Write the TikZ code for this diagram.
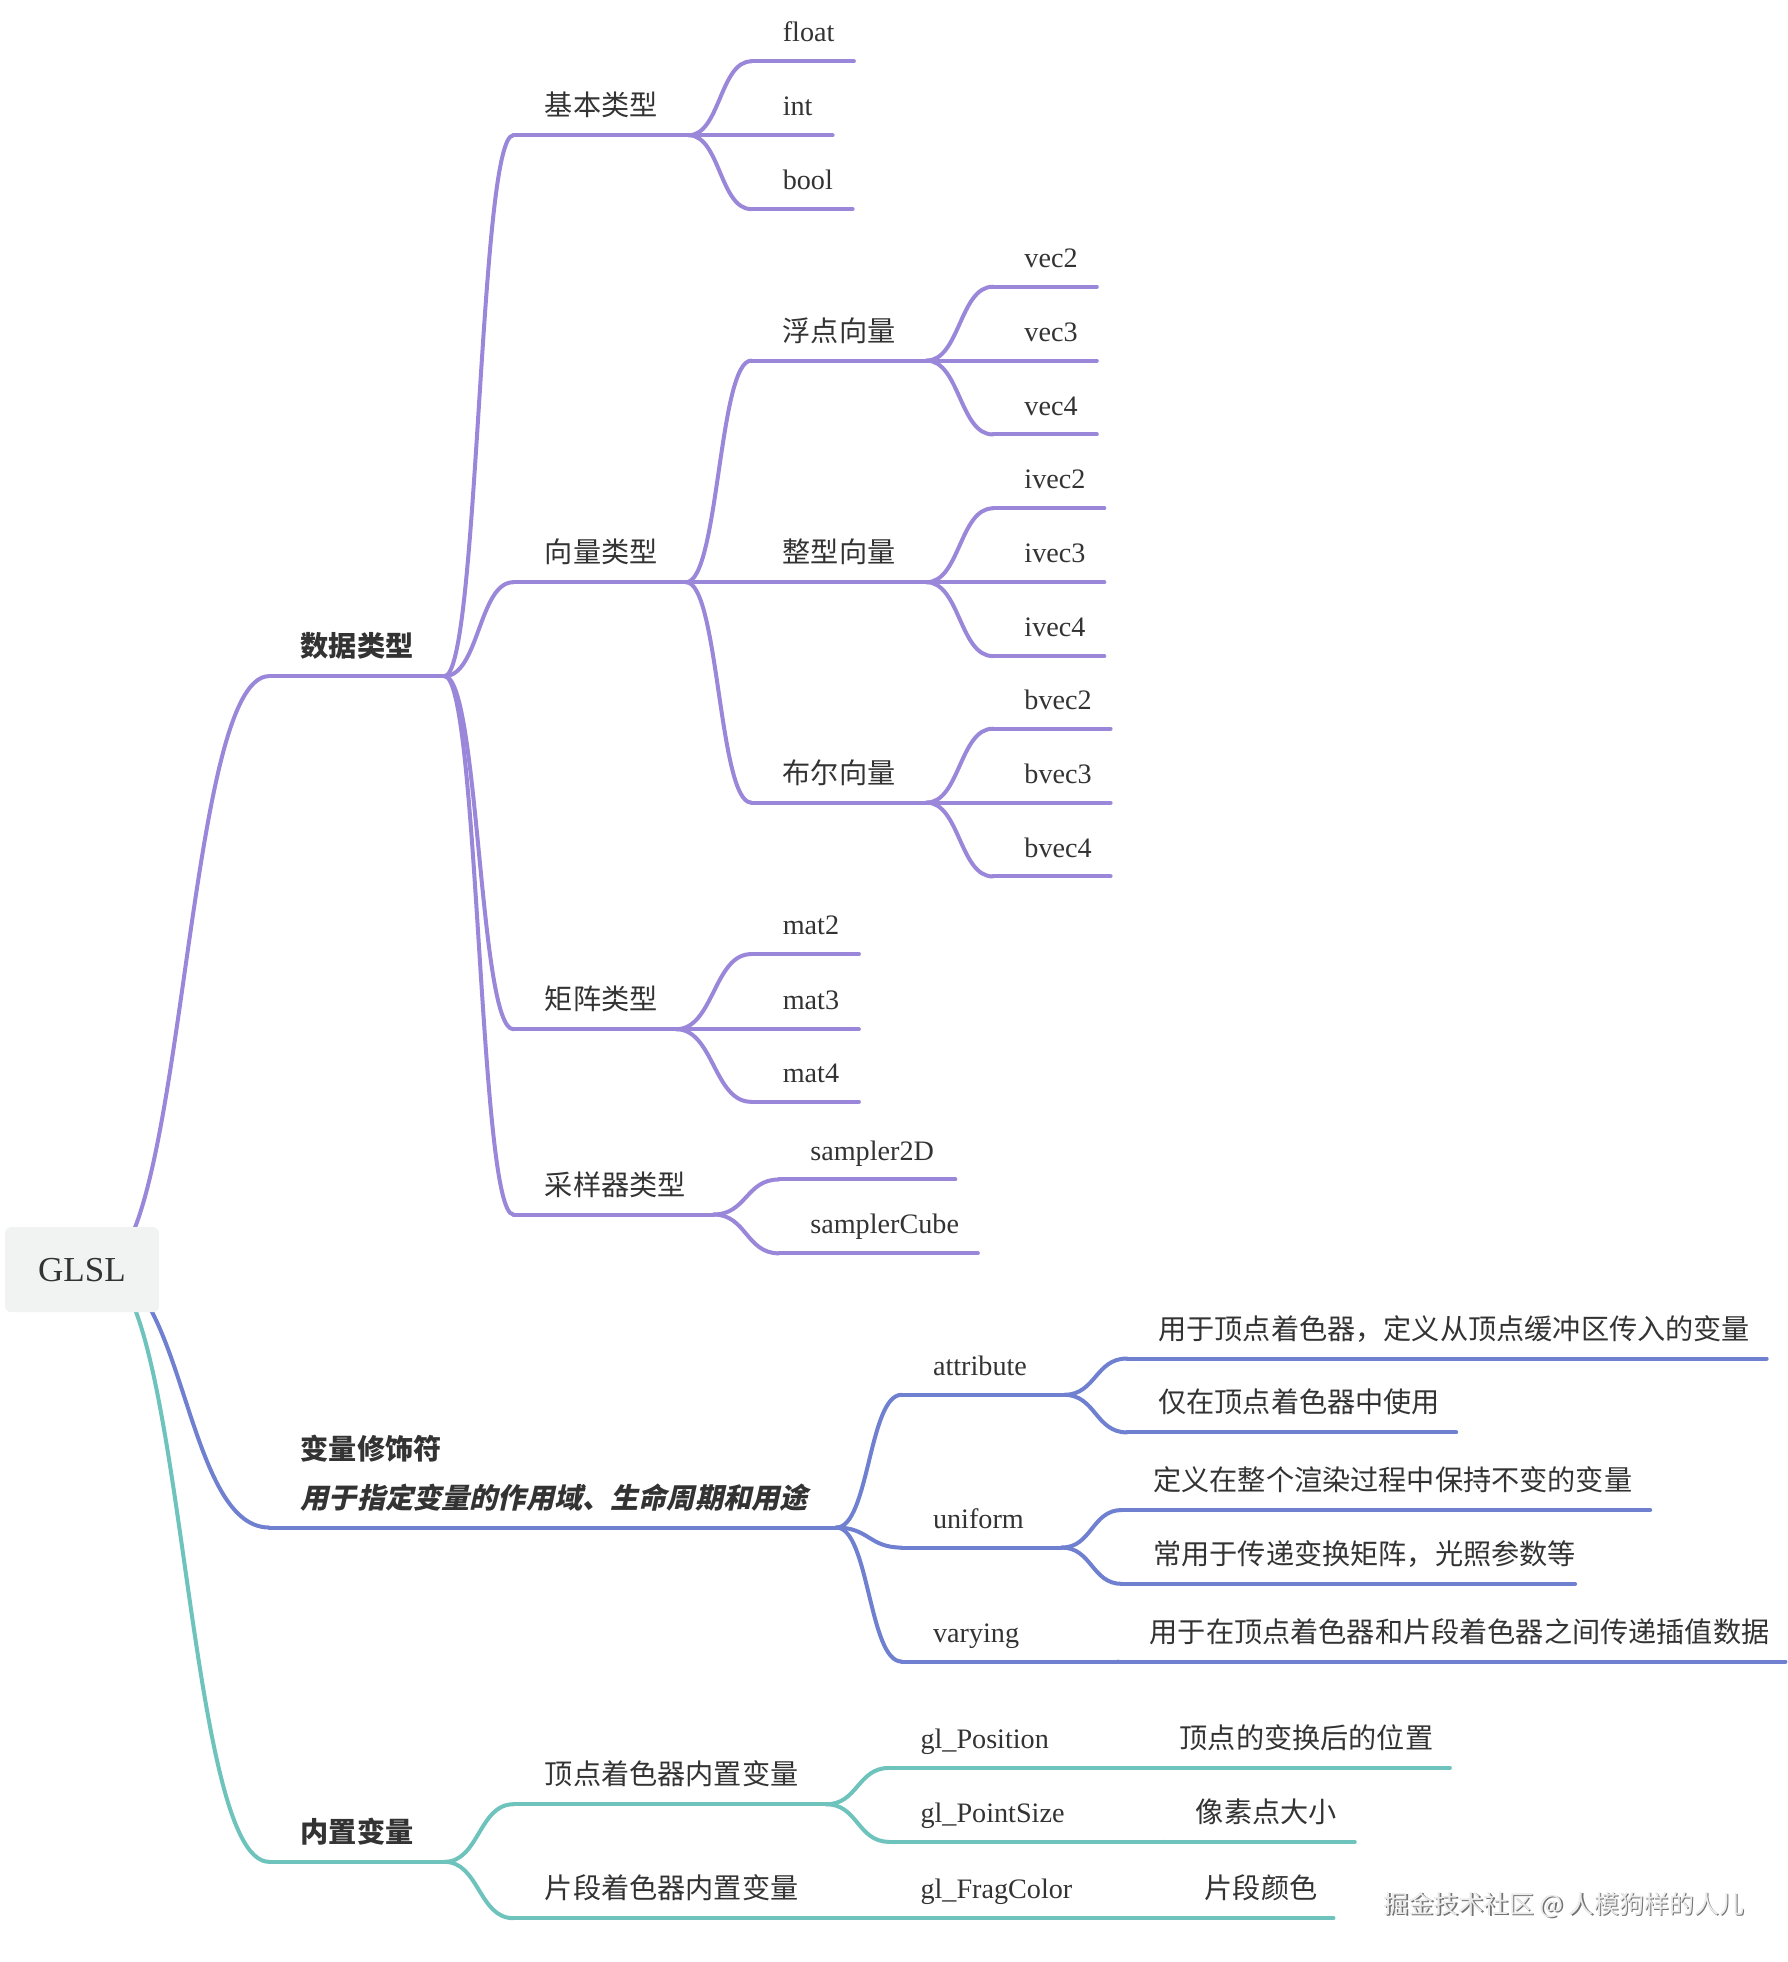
\documentclass[tikz,border=0pt]{standalone}
\usepackage{fontspec}
\setmainfont{Liberation Serif}
\newfontfamily\cjk{Noto Sans CJK SC}
\newfontfamily\cjksl{Noto Sans CJK SC}[FakeSlant=0.22]
\usetikzlibrary{calc}
\definecolor{cP}{HTML}{9B87DA}
\definecolor{cB}{HTML}{7080D0}
\definecolor{cT}{HTML}{6EC3BC}
\definecolor{txt}{HTML}{333333}
\definecolor{rootfill}{HTML}{F1F2F2}
\tikzset{
 br/.style={line width=3.2pt, line cap=round, line join=round},
 pur/.style={br, draw=cP},
 blu/.style={br, draw=cB},
 tea/.style={br, draw=cT},
 lbl/.style={inner sep=0pt, text=txt, font=\fontsize{22.5}{27}\selectfont, anchor=base west},
 rootbox/.style={fill=rootfill, rounded corners=5pt, minimum width=123pt, minimum height=68pt, inner sep=0pt, text=txt, font=\fontsize{28}{32}\selectfont},
}
% name, xs, xe, y, style, text
\newcommand\mmnode[6]{%
 \coordinate (#1L) at (#2,#4);
 \coordinate (#1R) at (#3,#4);
 \draw[#5] (#1L) -- (#1R);
 \node[lbl] (#1) at ($(#1L)+(25,-15.5)$) {#6};
}
\newcommand\mmlink[3]{%
 \draw[#3] (#1) .. controls ($(#1)!0.5!(#1-|#2)$) and ($(#2)!0.5!(#2-|#1)$) .. (#2);
}
\begin{document}
\begin{tikzpicture}[x=1pt,y=-1pt]
\useasboundingbox (0,0) rectangle (1428,1567);
\coordinate (rootO) at (80,1013);

% ---------- purple branch ----------
\mmnode{d}{215}{355}{540}{pur}{\cjk\bfseries 数据类型}
\mmnode{b}{410}{550}{108}{pur}{\cjk 基本类型}
\mmnode{bf}{600}{682}{49}{pur}{float}
\mmnode{bi}{600}{665}{108}{pur}{int}
\mmnode{bb}{600}{681}{167}{pur}{bool}
\mmnode{v}{410}{548}{465}{pur}{\cjk 向量类型}
\mmnode{vf}{600}{740}{288}{pur}{\cjk 浮点向量}
\mmnode{vfa}{793}{876}{229}{pur}{vec2}
\mmnode{vfb}{793}{876}{288}{pur}{vec3}
\mmnode{vfc}{793}{876}{347}{pur}{vec4}
\mmnode{vi}{600}{740}{465}{pur}{\cjk 整型向量}
\mmnode{via}{793}{882}{406}{pur}{ivec2}
\mmnode{vib}{793}{882}{465}{pur}{ivec3}
\mmnode{vic}{793}{882}{524}{pur}{ivec4}
\mmnode{vb}{600}{740}{641}{pur}{\cjk 布尔向量}
\mmnode{vba}{793}{887}{582}{pur}{bvec2}
\mmnode{vbb}{793}{887}{641}{pur}{bvec3}
\mmnode{vbc}{793}{887}{700}{pur}{bvec4}
\mmnode{m}{410}{540}{822}{pur}{\cjk 矩阵类型}
\mmnode{ma}{600}{686}{762}{pur}{mat2}
\mmnode{mb}{600}{686}{822}{pur}{mat3}
\mmnode{mc}{600}{686}{880}{pur}{mat4}
\mmnode{s}{410}{570}{970}{pur}{\cjk 采样器类型}
\mmnode{sa}{622}{763}{942}{pur}{sampler2D}
\mmnode{sb}{622}{781}{1001}{pur}{samplerCube}

\mmlink{rootO}{dL}{pur}
\mmlink{dR}{bL}{pur}
\mmlink{bR}{bfL}{pur}
\mmlink{bR}{biL}{pur}
\mmlink{bR}{bbL}{pur}
\mmlink{dR}{vL}{pur}
\mmlink{vR}{vfL}{pur}
\mmlink{vfR}{vfaL}{pur}
\mmlink{vfR}{vfbL}{pur}
\mmlink{vfR}{vfcL}{pur}
\mmlink{vR}{viL}{pur}
\mmlink{viR}{viaL}{pur}
\mmlink{viR}{vibL}{pur}
\mmlink{viR}{vicL}{pur}
\mmlink{vR}{vbL}{pur}
\mmlink{vbR}{vbaL}{pur}
\mmlink{vbR}{vbbL}{pur}
\mmlink{vbR}{vbcL}{pur}
\mmlink{dR}{mL}{pur}
\mmlink{mR}{maL}{pur}
\mmlink{mR}{mbL}{pur}
\mmlink{mR}{mcL}{pur}
\mmlink{dR}{sL}{pur}
\mmlink{sR}{saL}{pur}
\mmlink{sR}{sbL}{pur}

% ---------- blue branch ----------
\mmnode{q}{215}{668}{1220}{blu}{\cjksl\bfseries 用于指定变量的作用域、生命周期和用途}
\node[lbl] (qt) at ($(qL)+(25,-54.5)$) {\cjk\bfseries 变量修饰符};
\mmnode{qa}{720}{850}{1114}{blu}{attribute}
\mmnode{qaa}{900}{1411}{1085}{blu}{\cjk 用于顶点着色器，定义从顶点缓冲区传入的变量}
\mmnode{qab}{900}{1163}{1144}{blu}{\cjk 仅在顶点着色器中使用}
\mmnode{qu}{720}{848}{1236}{blu}{uniform}
\mmnode{qua}{896}{1318}{1206}{blu}{\cjk 定义在整个渲染过程中保持不变的变量}
\mmnode{qub}{896}{1258}{1265}{blu}{\cjk 常用于传递变换矩阵，光照参数等}
\mmnode{qv}{720}{893}{1327}{blu}{varying}
\mmnode{qva}{893}{1426}{1327}{blu}{\cjk 用于在顶点着色器和片段着色器之间传递插值数据}

\mmlink{rootO}{qL}{blu}
\mmlink{qR}{qaL}{blu}
\mmlink{qaR}{qaaL}{blu}
\mmlink{qaR}{qabL}{blu}
\mmlink{qR}{quL}{blu}
\mmlink{quR}{quaL}{blu}
\mmlink{quR}{qubL}{blu}
\mmlink{qR}{qvL}{blu}
\mmlink{qvR}{qvaL}{blu}

% ---------- teal branch ----------
\mmnode{n}{215}{355}{1487}{tea}{\cjk\bfseries 内置变量}
\mmnode{nv}{410}{660}{1441}{tea}{\cjk 顶点着色器内置变量}
\mmnode{nva}{710}{917}{1412}{tea}{gl\_Position}
\mmnode{nvaa}{917}{1158}{1412}{tea}{\cjk 顶点的变换后的位置}
\mmnode{nvb}{710}{930}{1471}{tea}{gl\_PointSize}
\mmnode{nvba}{930}{1082}{1471}{tea}{\cjk 像素点大小}
\mmnode{nf}{410}{660}{1532}{tea}{\cjk 片段着色器内置变量}
\mmnode{nfa}{710}{937}{1532}{tea}{gl\_FragColor}
\mmnode{nfaa}{937}{1065}{1532}{tea}{\cjk 片段颜色}

\mmlink{rootO}{nL}{tea}
\mmlink{nR}{nvL}{tea}
\mmlink{nvR}{nvaL}{tea}
\mmlink{nvaR}{nvaaL}{tea}
\mmlink{nvR}{nvbL}{tea}
\mmlink{nvbR}{nvbaL}{tea}
\mmlink{nR}{nfL}{tea}
\mmlink{nfR}{nfaL}{tea}
\mmlink{nfaR}{nfaaL}{tea}

% ---------- root ----------
\node[rootbox] (root) at (65.5,1014) {GLSL};

% ---------- watermark ----------
\node[inner sep=0pt, anchor=base west, text=black!55, font=\cjk\fontsize{20}{24}\selectfont] (wms) at (1106.2,1529.2) {掘金技术社区 @ 人模狗样的人儿};
\node[inner sep=0pt, anchor=base west, text=black!8, font=\cjk\fontsize{20}{24}\selectfont] (wm) at (1105,1528) {掘金技术社区 @ 人模狗样的人儿};
\end{tikzpicture}
\end{document}
